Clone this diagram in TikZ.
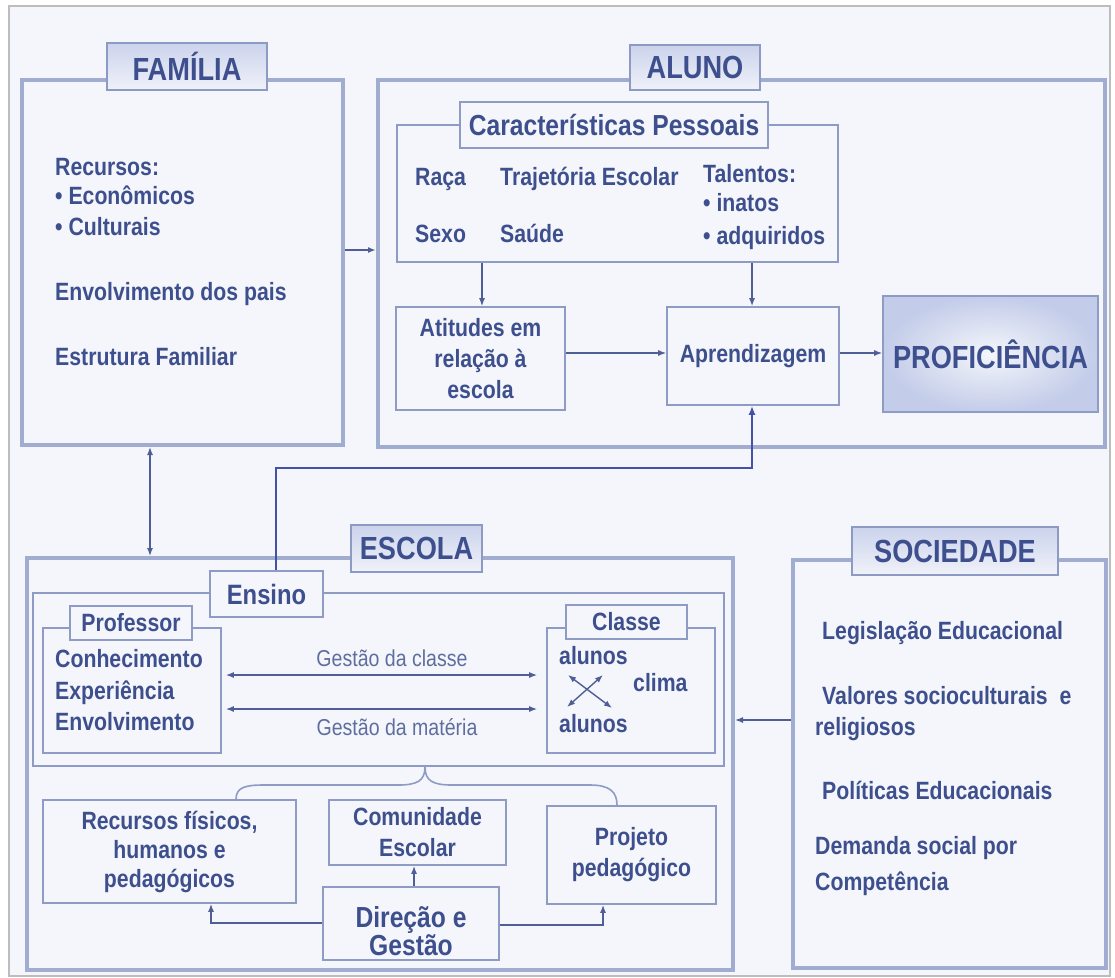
\documentclass[tikz,border=0pt]{standalone}
\usepackage{fontspec}
\setmainfont{Liberation Sans}[FakeStretch=0.85]
\usetikzlibrary{arrows.meta,calc}
\definecolor{bgc}{HTML}{F4F6FB}
\definecolor{outc}{HTML}{BDBDBD}
\definecolor{txtc}{HTML}{3E4F8E}
\definecolor{framec}{HTML}{A0ACD0}
\definecolor{thinc}{HTML}{8E9BC4}
\definecolor{labc}{HTML}{8D9AC4}
\definecolor{labtop}{HTML}{CBD3EC}
\definecolor{labbot}{HTML}{F0F2F9}
\definecolor{arrc}{HTML}{4F5F96}
\definecolor{gesc}{HTML}{5F6E9F}
\definecolor{profout}{HTML}{C3CCE9}
\newcommand\myBody{\fontsize{25}{31}\selectfont\bfseries}
\tikzset{
  frame/.style={draw=framec, line width=4pt, fill=bgc, inner sep=0pt},
  biglabel/.style={draw=labc, line width=2pt, top color=labtop, bottom color=labbot, inner sep=0pt, font=\fontsize{32}{36}\selectfont\bfseries, text=txtc},
  sublabel/.style={draw=thinc, line width=1.6pt, fill=bgc, inner sep=0pt, text=txtc},
  thinbox/.style={draw=thinc, line width=1.6pt, fill=bgc, inner sep=0pt},
  txt/.style={text=txtc, font=\myBody, inner sep=0pt, anchor=mid west},
  ctxt/.style={text=txtc, font=\myBody, align=center, inner sep=0pt},
  gtxt/.style={text=gesc, font=\fontsize{23}{27}\selectfont, inner sep=0pt},
  arr/.style={draw=arrc, line width=1.4pt, -{Latex[length=8pt,width=6pt]}},
  darr/.style={draw=arrc, line width=1.4pt, {Latex[length=8pt,width=6pt]}-{Latex[length=8pt,width=6pt]}},
  bigarr/.style={draw=arrc!85!blue, line width=2.6pt, -{Latex[length=9pt,width=7pt]}},
  bracepath/.style={draw=thinc, line width=1.6pt},
}
\begin{document}
\begin{tikzpicture}[x=1pt,y=-1pt]
\useasboundingbox (0,0) rectangle (1115,977);
\fill[white] (0,0) rectangle (1115,977);
\draw[draw=outc, line width=1.5pt, fill=bgc] (9,6) rectangle (1110,976);

% main frames
\node[frame, minimum width=321pt, minimum height=365pt] (fam) at (182.5,262.5) {};
\node[frame, minimum width=727pt, minimum height=367pt] (alu) at (741.5,263.5) {};
\node[frame, minimum width=706pt, minimum height=412pt] (esc) at (380,764) {};
\node[frame, minimum width=313pt, minimum height=408pt] (soc) at (949.5,764) {};

% frame labels
\node[biglabel, minimum width=160pt, minimum height=47pt] (famL) at (187,66.5) {FAMÍLIA};
\node[biglabel, minimum width=130pt, minimum height=45pt] (aluL) at (695,67.5) {ALUNO};
\node[biglabel, minimum width=131pt, minimum height=47pt] (escL) at (416.5,548.5) {ESCOLA};
\node[biglabel, minimum width=206pt, minimum height=48pt] (socL) at (955,551) {SOCIEDADE};

% FAMILIA contents
\node[txt] (f1) at (55,173) {Recursos:};
\node[txt] (f2) at (55,202) {• Econômicos};
\node[txt] (f3) at (55,233) {• Culturais};
\node[txt] (f4) at (55,298) {Envolvimento dos pais};
\node[txt] (f5) at (55,363) {Estrutura Familiar};

% ALUNO contents
\node[thinbox, minimum width=441pt, minimum height=137pt] (chr) at (617.5,193.5) {};
\node[sublabel, font=\fontsize{29}{34}\selectfont\bfseries, minimum width=308pt, minimum height=46pt] (chrL) at (614,125) {Características Pessoais};
\node[txt] (a1) at (415,183) {Raça};
\node[txt] (a2) at (500,183) {Trajetória Escolar};
\node[txt] (a3) at (703,180) {Talentos:};
\node[txt] (a4) at (703,209) {• inatos};
\node[txt] (a5) at (703,242) {• adquiridos};
\node[txt] (a6) at (415,240) {Sexo};
\node[txt] (a7) at (500,240) {Saúde};

\node[thinbox, ctxt, minimum width=169pt, minimum height=103pt] (ati) at (480.5,358.5) {Atitudes em\\relação à\\escola};
\node[thinbox, ctxt, minimum width=172pt, minimum height=98pt] (apr) at (753,356) {Aprendizagem};
\node[draw=thinc, line width=1.6pt, inner color=bgc, outer color=profout, inner sep=0pt, text=txtc,
      font=\fontsize{32}{36}\selectfont\bfseries, minimum width=215pt, minimum height=116pt] (pro) at (990.5,354) {PROFICIÊNCIA};

% ESCOLA contents
\node[thinbox, minimum width=691pt, minimum height=173pt] (ens) at (378.5,679.5) {};
\node[sublabel, font=\fontsize{28}{32}\selectfont\bfseries, minimum width=113pt, minimum height=46pt] (ensL) at (266.5,594) {Ensino};
\node[thinbox, minimum width=178pt, minimum height=125pt] (prf) at (132,690.5) {};
\node[sublabel, font=\myBody, minimum width=122pt, minimum height=34pt] (prfL) at (131,623) {Professor};
\node[thinbox, minimum width=168pt, minimum height=125pt] (cls) at (631,690.5) {};
\node[sublabel, font=\myBody, minimum width=121pt, minimum height=34pt] (clsL) at (626.5,622) {Classe};

\node[txt] (p1) at (55,665) {Conhecimento};
\node[txt] (p2) at (55,697) {Experiência};
\node[txt] (p3) at (55,728) {Envolvimento};

\node[txt] (c1) at (559,662) {alunos};
\node[txt] (c2) at (633,689) {clima};
\node[txt] (c3) at (559,730) {alunos};

\node[gtxt] (g1) at (392,658) {Gestão da classe};
\node[gtxt] (g2) at (397,727) {Gestão da matéria};

\node[thinbox, ctxt, minimum width=253pt, minimum height=103pt] (rec) at (169.5,851.5) {Recursos físicos,\\[-2pt]humanos e\\[-2pt]pedagógicos};
\node[thinbox, ctxt, minimum width=177pt, minimum height=65pt] (com) at (417.5,832.5) {Comunidade\\Escolar};
\node[thinbox, minimum width=176pt, minimum height=73pt] (dir) at (411,923.5) {};
\node[ctxt, font=\fontsize{29}{28}\selectfont\bfseries] (dirT) at (411,931) {Direção e\\Gestão};
\node[thinbox, ctxt, minimum width=169pt, minimum height=98pt] (prj) at (631.5,855) {Projeto\\pedagógico};

% SOCIEDADE contents
\node[txt] (s1) at (822,637) {Legislação Educacional};
\node[txt] (s2) at (822,702) {Valores socioculturais~ e};
\node[txt] (s3) at (815,733) {religiosos};
\node[txt] (s4) at (822,797) {Políticas Educacionais};
\node[txt] (s5) at (815,852) {Demanda social por};
\node[txt] (s6) at (815,888) {Competência};

% brace
\coordinate (bl) at (rec.north -| 236,0);
\coordinate (br) at (prj.north -| 617,0);
\coordinate (btip) at (ens.south -| 425,0);
\draw[bracepath] (bl) .. controls (236,787) and (246,785) .. (264,785) -- (398,785)
      .. controls (417,785) and (425,781) .. (btip);
\draw[bracepath] (btip) .. controls (425,781) and (433,785) .. (452,785) -- (590,785)
      .. controls (610,785) and (617,792) .. (br);

% connectors
\draw[arr, line width=2pt] (fam.east |- 0,250) -- (alu.west |- 0,250);
\draw[darr] (fam.south -| 150,0) -- (esc.north -| 150,0);
\draw[arr] (chr.south -| 482,0) -- (ati.north -| 482,0);
\draw[arr] (chr.south -| 752,0) -- (apr.north -| 752,0);
\draw[arr] (ati.east |- 0,353) -- (apr.west |- 0,353);
\draw[arr] (apr.east |- 0,353) -- (pro.west |- 0,353);
\coordinate (jog) at (752,468);
\draw[bigarr] (ensL.north -| 276,0) |- (jog) -- (apr.south -| jog);
\draw[arr] (soc.west |- 0,720) -- (esc.east |- 0,720);
\draw[darr, shorten <=4pt, shorten >=9pt] (prf.east |- 0,675) -- (cls.west |- 0,675);
\draw[darr, shorten <=4pt, shorten >=9pt] (prf.east |- 0,709) -- (cls.west |- 0,709);
\coordinate (x1) at (568,675);
\coordinate (x2) at (612,708);
\coordinate (x3) at (603,675);
\coordinate (x4) at (567,707);
\draw[darr] (x1) -- (x2);
\draw[darr] (x3) -- (x4);
\draw[arr] (dir.north -| 414,0) -- (com.south -| 414,0);
\draw[arr] (dir.west |- 0,923) -| (rec.south -| 211,0);
\draw[arr] (dir.east |- 0,925) -| (prj.south -| 603,0);
\end{tikzpicture}
\end{document}
